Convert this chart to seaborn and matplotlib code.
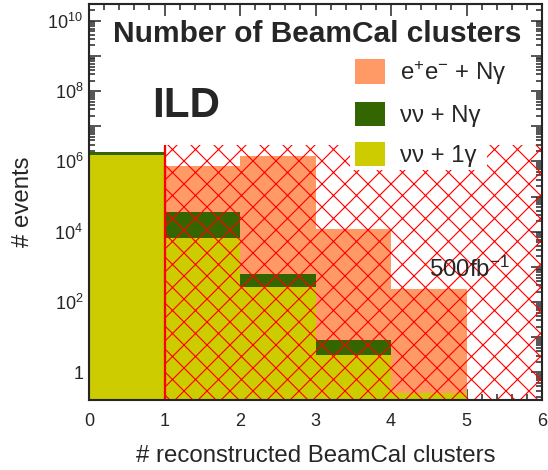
import numpy as np
import pandas as pd
import matplotlib
matplotlib.use("Agg")
import matplotlib.pyplot as plt
import seaborn as sns
from matplotlib.patches import Patch, Rectangle
from matplotlib.ticker import MultipleLocator, LogLocator, FuncFormatter, NullFormatter

# histogram bins (number of reconstructed BeamCal clusters)
BIN_EDGES = [0, 1, 2, 3, 4, 5, 6]
BIN_CENTERS = [0.5, 1.5, 2.5, 3.5, 4.5, 5.5]

# events per bin
EE_NGAMMA = [0, 7.2e5, 1.43e6, 1.2e4, 234, 0]
NUNU_NGAMMA = [3.0e5, 3.0e4, 347, 5.3, 0, 0]
NUNU_1GAMMA = [1.5e6, 6.8e3, 277, 3.2, 0.26, 0]

LABELS = ["e$^{+}$e$^{-}$ + Nγ", "νν + Nγ", "νν + 1γ"]
COLORS = ["#ff9966", "#336600", "#cccc00"]

# cut region (hatched)
CUT_X = 1
CUT_TOP = 3e6
Y_RANGE = (0.17, 3e10)

DPI = 138
W, H = 548, 470


def main():
    sns.set_style("ticks")
    plt.rcParams['font.family'] = ['Liberation Sans', 'DejaVu Sans']
    plt.rcParams['mathtext.fontset'] = 'custom'
    plt.rcParams['mathtext.rm'] = 'Liberation Sans'
    plt.rcParams['mathtext.it'] = 'Liberation Sans:italic'
    plt.rcParams['mathtext.bf'] = 'Liberation Sans:bold'
    plt.rcParams['mathtext.default'] = 'regular'
    plt.rcParams['hatch.linewidth'] = 0.6
    plt.rcParams['hatch.color'] = 'red'

    rows = []
    for name, vals in zip(LABELS, [EE_NGAMMA, NUNU_NGAMMA, NUNU_1GAMMA]):
        for x, n in zip(BIN_CENTERS, vals):
            rows.append({'clusters': x, 'events': n, 'process': name})
    df = pd.DataFrame(rows)

    fig = plt.figure(figsize=(W / DPI, H / DPI), dpi=DPI)
    ax = fig.add_axes([89 / W, 1 - 399.5 / H, 453 / W, 395.5 / H])

    # stacked histogram (last hue level ends up at the bottom)
    sns.histplot(data=df, x='clusters', weights='events', hue='process',
                 hue_order=LABELS, palette=COLORS, multiple='stack',
                 bins=BIN_EDGES, element='bars', linewidth=0, alpha=1,
                 legend=False, ax=ax)
    ax.set_yscale('log')
    ax.set_xlim(BIN_EDGES[0], BIN_EDGES[-1])
    ax.set_ylim(*Y_RANGE)

    # hatched cut region + cut line
    ax.fill_between([CUT_X, BIN_EDGES[-1]], Y_RANGE[0], CUT_TOP,
                    facecolor='none', edgecolor='red', hatch='xx',
                    linewidth=0, zorder=3)
    ax.vlines(CUT_X, Y_RANGE[0], CUT_TOP, colors='red', linewidth=1.2, zorder=4)

    # ROOT-like axes
    for s in ax.spines.values():
        s.set_linewidth(1.1)
        s.set_zorder(6)
    ax.xaxis.set_major_locator(MultipleLocator(1))
    ax.xaxis.set_minor_locator(MultipleLocator(0.2))
    ax.yaxis.set_major_locator(LogLocator(base=10, numticks=30))
    ax.yaxis.set_minor_locator(LogLocator(base=10, subs=np.arange(2, 10), numticks=30))

    def ylab(v, pos):
        e = int(round(np.log10(v)))
        if e % 2:
            return ''
        return '1' if e == 0 else f'$10^{{{e}}}$'

    ax.yaxis.set_major_formatter(FuncFormatter(ylab))
    ax.yaxis.set_minor_formatter(NullFormatter())
    ax.tick_params(which='both', direction='in', top=True, right=True,
                   labelsize=9.4, width=0.8, zorder=6)
    ax.tick_params(which='major', length=6)
    ax.tick_params(which='minor', length=3)
    ax.tick_params(axis='x', pad=7)
    ax.tick_params(axis='y', pad=3)

    ax.set_xlabel("# reconstructed BeamCal clusters", fontsize=12.5)
    ax.set_ylabel("# events", fontsize=12.5)
    ax.xaxis.set_label_coords(0.5, -0.115)
    ax.yaxis.set_label_coords(-0.122, 0.5)

    fig.text(317.5 / W, 1 - 42 / H, "Number of BeamCal clusters",
             ha='center', va='baseline', fontsize=15.6, fontweight='bold')
    fig.text(151.7 / W, 1 - 116.7 / H, "ILD",
             ha='left', va='baseline', fontsize=22, fontweight='bold')
    fig.text(429.3 / W, 1 - 276.7 / H, "500fb$^{-1}$",
             ha='left', va='baseline', fontsize=12.5, zorder=7)

    # white legend pad (narrower than the longest label, like ROOT's TLegend)
    ax.add_patch(Rectangle((350 / W, 1 - 170 / H), 137 / W, 116 / H,
                           transform=fig.transFigure, facecolor='white',
                           edgecolor='none', zorder=7, clip_on=False))
    handles = [Patch(facecolor=c, edgecolor='none') for c in COLORS]
    leg = ax.legend(handles, LABELS, loc='upper left',
                    bbox_to_anchor=(350 / W, 1 - 54 / H),
                    bbox_transform=fig.transFigure, fontsize=12.5,
                    handlelength=1.25, handleheight=1.2, handletextpad=0.625,
                    labelspacing=0.62, borderpad=0.2, borderaxespad=0,
                    frameon=False)
    leg.set_zorder(8)

    fig.savefig('out.png', dpi=DPI)


if __name__ == "__main__":
    main()
